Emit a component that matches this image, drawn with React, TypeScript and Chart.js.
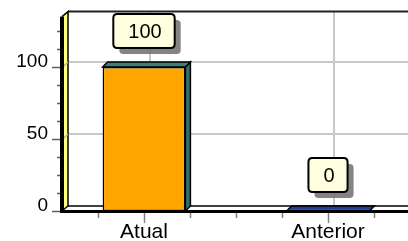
import React, { useEffect, useRef } from 'react';
import { Chart, registerables } from 'chart.js';

Chart.register(...registerables);

const categories = ['Atual', 'Anterior'];
const values = [100, 0];
const valueLabels = ['100', '0'];
const yTickValues = [0, 50, 100];
const yMax = 135;
const yMinorStep = 12.5;

const FONT = '"Liberation Sans", Arial, sans-serif';
const WDX = 6;
const WDY = -5;
const BDX = 5;
const BDY = -5;

function roundRect(ctx: CanvasRenderingContext2D, x: number, y: number, w: number, h: number, r: number) {
  ctx.beginPath();
  ctx.moveTo(x + r, y);
  ctx.lineTo(x + w - r, y);
  ctx.quadraticCurveTo(x + w, y, x + w, y + r);
  ctx.lineTo(x + w, y + h - r);
  ctx.quadraticCurveTo(x + w, y + h, x + w - r, y + h);
  ctx.lineTo(x + r, y + h);
  ctx.quadraticCurveTo(x, y + h, x, y + h - r);
  ctx.lineTo(x, y + r);
  ctx.quadraticCurveTo(x, y, x + r, y);
  ctx.closePath();
}

const threeD = {
  id: 'threeD',
  beforeDatasetsDraw(chart: any) {
    const { ctx, chartArea, scales } = chart;
    const x = scales.x;
    const y = scales.y;
    const axisX = chartArea.left + 10;
    const right = chart.width;
    const y0 = y.getPixelForValue(0);
    const yTop = y.getPixelForValue(yMax);
    ctx.save();
    ctx.strokeStyle = '#c8c8c8';
    ctx.lineWidth = 2;
    yTickValues.forEach((v) => {
      if (v === 0) return;
      const yy = y.getPixelForValue(v) + WDY;
      ctx.beginPath();
      ctx.moveTo(axisX + WDX, yy);
      ctx.lineTo(right, yy);
      ctx.stroke();
    });
    categories.forEach((_, i) => {
      const xx = x.getPixelForValue(i) + WDX;
      ctx.beginPath();
      ctx.moveTo(xx, yTop + WDY);
      ctx.lineTo(xx, y0 + WDY);
      ctx.stroke();
    });
    ctx.strokeStyle = '#202020';
    ctx.lineWidth = 2;
    ctx.beginPath();
    ctx.moveTo(axisX + WDX, yTop + WDY);
    ctx.lineTo(right, yTop + WDY);
    ctx.stroke();
    ctx.fillStyle = '#ffff80';
    ctx.beginPath();
    ctx.moveTo(axisX, yTop);
    ctx.lineTo(axisX + WDX, yTop + WDY);
    ctx.lineTo(axisX + WDX, y0 + WDY);
    ctx.lineTo(axisX, y0);
    ctx.closePath();
    ctx.fill();
    ctx.strokeStyle = '#000';
    ctx.lineWidth = 1.5;
    ctx.beginPath();
    ctx.moveTo(axisX, yTop);
    ctx.lineTo(axisX + WDX, yTop + WDY);
    ctx.lineTo(axisX + WDX, y0 + WDY);
    ctx.stroke();
    ctx.strokeStyle = '#b0b0b0';
    ctx.lineWidth = 1.5;
    yTickValues.forEach((v) => {
      if (v === 0) return;
      const yy = y.getPixelForValue(v);
      ctx.beginPath();
      ctx.moveTo(axisX + 1, yy);
      ctx.lineTo(axisX + WDX, yy + WDY);
      ctx.stroke();
    });
    ctx.fillStyle = '#ffffff';
    ctx.beginPath();
    ctx.moveTo(axisX, y0);
    ctx.lineTo(axisX + WDX, y0 + WDY);
    ctx.lineTo(right, y0 + WDY);
    ctx.lineTo(right, y0);
    ctx.closePath();
    ctx.fill();
    ctx.strokeStyle = '#000';
    ctx.lineWidth = 1.5;
    ctx.beginPath();
    ctx.moveTo(axisX, y0);
    ctx.lineTo(axisX + WDX, y0 + WDY);
    ctx.lineTo(right, y0 + WDY);
    ctx.stroke();
    ctx.restore();
  },
  afterDatasetsDraw(chart: any) {
    const { ctx, chartArea, scales } = chart;
    const x = scales.x;
    const y = scales.y;
    const axisX = chartArea.left + 10;
    const right = chart.width;
    const y0 = y.getPixelForValue(0);
    const yTop = y.getPixelForValue(yMax);
    const meta = chart.getDatasetMeta(0);
    ctx.save();
    meta.data.forEach((bar: any) => {
      const p = bar.getProps(['x', 'y', 'base', 'width'], true);
      const l = p.x - p.width / 2;
      const r = p.x + p.width / 2;
      const top = Math.min(p.y, p.base);
      const base = Math.max(p.y, p.base);
      ctx.lineWidth = 1.5;
      ctx.strokeStyle = '#000';
      if (base - top > 1) {
        ctx.fillStyle = '#356e6e';
        ctx.beginPath();
        ctx.moveTo(r, top);
        ctx.lineTo(r + BDX, top + BDY);
        ctx.lineTo(r + BDX, base + BDY);
        ctx.lineTo(r, base);
        ctx.closePath();
        ctx.fill();
        ctx.stroke();
        ctx.fillStyle = '#3f7e7e';
        ctx.beginPath();
        ctx.moveTo(l, top);
        ctx.lineTo(l + BDX, top + BDY);
        ctx.lineTo(r + BDX, top + BDY);
        ctx.lineTo(r, top);
        ctx.closePath();
        ctx.fill();
        ctx.stroke();
      } else {
        ctx.fillStyle = '#2b7b7b';
        ctx.beginPath();
        ctx.moveTo(l, top);
        ctx.lineTo(l + BDX, top + BDY);
        ctx.lineTo(r + BDX, top + BDY);
        ctx.lineTo(r, top);
        ctx.closePath();
        ctx.fill();
        ctx.fillStyle = '#1e3f98';
        ctx.beginPath();
        ctx.moveTo(l + BDX * 0.3, top + BDY * 0.3);
        ctx.lineTo(l + BDX, top + BDY);
        ctx.lineTo(r + BDX, top + BDY);
        ctx.lineTo(r + BDX * 0.3, top + BDY * 0.3);
        ctx.closePath();
        ctx.fill();
        ctx.beginPath();
        ctx.moveTo(l, top);
        ctx.lineTo(l + BDX, top + BDY);
        ctx.lineTo(r + BDX, top + BDY);
        ctx.lineTo(r, top);
        ctx.closePath();
        ctx.stroke();
      }
    });
    ctx.fillStyle = '#000';
    ctx.fillRect(axisX - 2, yTop, 4, y0 - yTop + 2);
    ctx.fillRect(axisX - 2, y0 - 1, right - axisX + 2, 3);
    ctx.strokeStyle = '#606060';
    ctx.lineWidth = 1.5;
    for (let v = 0; v < yMax; v += yMinorStep) {
      const yy = Math.round(y.getPixelForValue(v)) + 0.5;
      const major = yTickValues.includes(v);
      ctx.beginPath();
      ctx.moveTo(axisX - (major ? 10 : 5), yy);
      ctx.lineTo(axisX - 2, yy);
      ctx.stroke();
    }
    ctx.strokeStyle = '#808080';
    ctx.lineWidth = 1.5;
    for (let i = 0; i < categories.length; i++) {
      for (let k = 0; k < 4; k++) {
        const xx = Math.round(x.getPixelForValue(i - 0.5 + k * 0.25)) + 0.5;
        if (xx <= axisX) continue;
        ctx.beginPath();
        ctx.moveTo(xx, y0 + 2);
        ctx.lineTo(xx, y0 + (k === 2 ? 12 : 7));
        ctx.stroke();
      }
    }
    ctx.font = '20px ' + FONT;
    ctx.textAlign = 'center';
    ctx.textBaseline = 'middle';
    meta.data.forEach((bar: any, i: number) => {
      const p = bar.getProps(['x', 'y'], true);
      const txt = valueLabels[i];
      const tw = ctx.measureText(txt).width;
      const w = tw + 28;
      const h = 34;
      const bx = p.x - w / 2;
      const by = p.y - 19 - h;
      ctx.fillStyle = 'rgba(110,110,110,0.85)';
      roundRect(ctx, bx + 6, by + 6, w, h, 4);
      ctx.fill();
      ctx.fillStyle = '#ffffe0';
      roundRect(ctx, bx, by, w, h, 4);
      ctx.fill();
      ctx.strokeStyle = '#000';
      ctx.lineWidth = 2;
      ctx.stroke();
      ctx.fillStyle = '#000';
      ctx.fillText(txt, p.x + 1, by + h / 2 + 1);
    });
    ctx.restore();
  },
};

export default function App() {
  const ref = useRef<HTMLCanvasElement | null>(null);
  useEffect(() => {
    if (!ref.current) return;
    const chart = new Chart(ref.current, {
      type: 'bar',
      data: {
        labels: categories,
        datasets: [
          {
            data: values,
            backgroundColor: '#ffa500',
            borderColor: '#000',
            borderWidth: 1.5,
            borderSkipped: false,
            categoryPercentage: 1,
            barPercentage: 0.45,
          },
        ],
      },
      options: {
        responsive: false,
        animation: false,
        events: [],
        layout: { padding: { top: 16.6, right: 0, left: 0, bottom: 0 } },
        plugins: { legend: { display: false }, tooltip: { enabled: false } },
        scales: {
          x: {
            grid: { display: false, drawTicks: false },
            border: { display: false },
            ticks: { color: '#000', font: { family: FONT, size: 21 }, padding: 9, maxRotation: 0 },
            afterFit: (s: any) => {
              s.height = 30;
            },
          },
          y: {
            min: 0,
            max: yMax,
            grid: { display: false, drawTicks: false },
            border: { display: false },
            ticks: { color: '#000', font: { family: FONT, size: 19 }, padding: 4, labelOffset: -5 },
            afterBuildTicks: (s: any) => {
              s.ticks = yTickValues.map((v) => ({ value: v }));
            },
            afterFit: (s: any) => {
              s.width = 52;
            },
          },
        },
      },
      plugins: [threeD],
    });
    return () => chart.destroy();
  }, []);
  return (
    <div style={{ position: 'absolute', left: 0, top: 0, width: 408, height: 241, overflow: 'hidden', background: '#fff' }}>
      <canvas ref={ref} width={420} height={241} style={{ display: 'block' }} />
    </div>
  );
}
